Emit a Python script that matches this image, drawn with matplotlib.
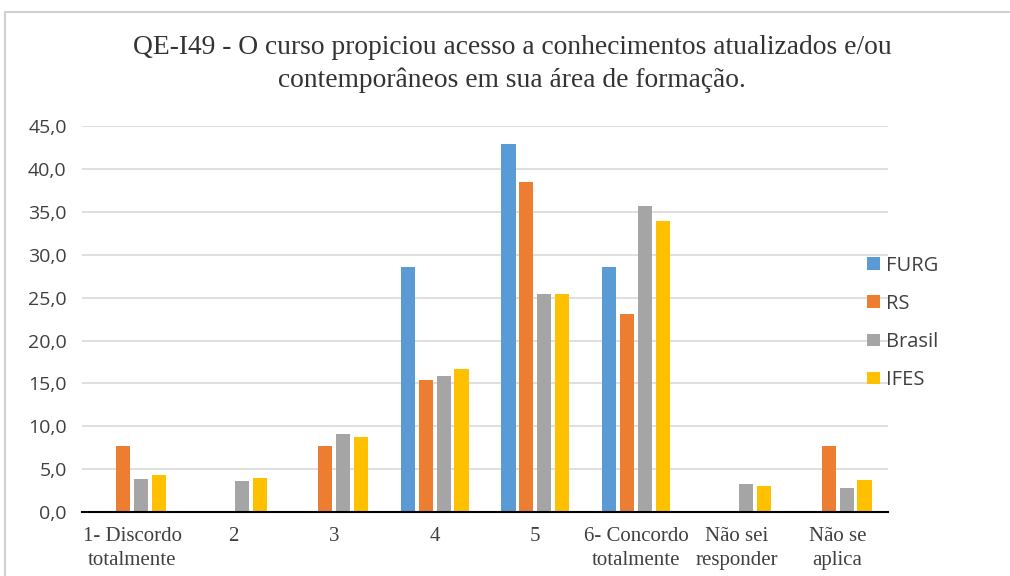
import matplotlib
matplotlib.use("Agg")
import matplotlib.pyplot as plt
import numpy as np
from matplotlib.patches import Rectangle

categories = ["1- Discordo\ntotalmente", "2", "3", "4", "5",
              "6- Concordo\ntotalmente", "Não sei\nresponder", "Não se\naplica"]
furg = [0.0, 0.0, 0.0, 28.6, 42.9, 28.6, 0.0, 0.0]
rs = [7.7, 0.0, 7.7, 15.4, 38.5, 23.1, 0.0, 7.7]
brasil = [3.9, 3.6, 9.1, 15.9, 25.4, 35.7, 3.3, 2.8]
ifes = [4.3, 4.0, 8.7, 16.7, 25.4, 33.9, 3.0, 3.7]
series_names = ["FURG", "RS", "Brasil", "IFES"]
colors = ["#5B9BD5", "#ED7D31", "#A5A5A5", "#FFC000"]
yticks = [0, 5, 10, 15, 20, 25, 30, 35, 40, 45]

fig = plt.figure(figsize=(10.1, 5.76), dpi=100)
ax = fig.add_axes([0.0812, 0.111, 0.798, 0.670])

x = np.arange(len(categories))
width = 0.14
step = 0.178
data = [furg, rs, brasil, ifes]
for i, (vals, name, c) in enumerate(zip(data, series_names, colors)):
    ax.bar(x + (i - 1.5) * step, vals, width, color=c, label=name, zorder=3)

ax.set_xlim(-0.5, len(categories) - 0.5)
ax.set_ylim(0, 45)
ax.set_yticks(yticks)
ax.set_yticklabels([f"{v:.1f}".replace(".", ",") for v in yticks],
                   fontsize=14, family="Open Sans", color="#404040")
ax.set_xticks(x)
ax.set_xticklabels(categories, fontsize=15, family="Liberation Serif", color="#404040",
                   linespacing=1.3)
ax.tick_params(axis="y", length=0, pad=11)
ax.tick_params(axis="x", length=0, pad=11)
ax.grid(axis="y", color="#D9D9D9", linewidth=1.2, zorder=0)
for s in ["top", "right", "left"]:
    ax.spines[s].set_visible(False)
ax.spines["bottom"].set_color("black")
ax.spines["bottom"].set_linewidth(1.5)
ax.spines["bottom"].set_zorder(4)

leg = ax.legend(loc="center left", bbox_to_anchor=(0.952, 0.49), frameon=False,
                prop={"family": "Open Sans", "size": 14.5}, labelcolor="#404040",
                handlelength=0.6, handleheight=0.6, handletextpad=0.3,
                labelspacing=0.9)

fig.text(0.507, 0.889, "QE-I49 - O curso propiciou acesso a conhecimentos atualizados e/ou\ncontemporâneos em sua área de formação.",
         ha="center", va="center", fontsize=19.8, family="Liberation Serif",
         color="#333333", linespacing=1.35)

fig.patches.append(Rectangle((0.005, -0.1), 1.2, 1.079, transform=fig.transFigure,
                             fill=False, edgecolor="#D0D0D0", linewidth=1.5))

fig.savefig("out.png", dpi=100)
